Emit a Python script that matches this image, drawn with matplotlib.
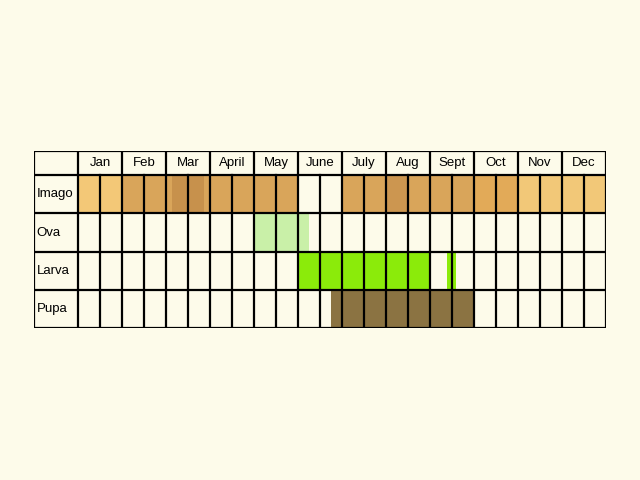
import matplotlib
matplotlib.use("Agg")
import matplotlib.pyplot as plt
from matplotlib.patches import Rectangle

months = ["Jan","Feb","Mar","April","May","June","July","Aug","Sept","Oct","Nov","Dec"]
stages = ["Imago","Ova","Larva","Pupa"]
# bars: (stage index, start half-month, end half-month, colour)
bar_stage = [0,0,0,0,0,0,0,0,1,2,2,3]
bar_start = [0,2,4.27,12,14,18,20,8,10,16.77,11.5,11.5]
bar_end   = [2,10,5.72,18,15,20,24,10.5,16,17.2,18,18]
bar_col   = ["#F3C877","#D9A55A","#C7914C","#D9A55A","#CC9650","#E2AA58","#F2C878",
             "#C9F0A8","#8BEB0A","#8BEB0A","#8B7342","#8B7342"]
bar_stage[7] = 1; bar_stage[8] = 2; bar_stage[9] = 2; bar_stage[10] = 3; bar_stage[11] = 3
bar_start[10] = 11.5

bg = "#FDFBEA"
fig = plt.figure(figsize=(6.4,4.8), dpi=100, facecolor=bg)
ax = fig.add_axes([34/640, (480-328)/480, 572/640, 177/480])
ax.set_facecolor(bg)
rows = [0,24,62,101,139,177]
ax.set_xlim(-2,24); ax.set_ylim(177,0)
ax.axis("off")
for s,a,b,c in zip(bar_stage,bar_start,bar_end,bar_col):
    ax.add_patch(Rectangle((a,rows[s+1]),b-a,rows[s+2]-rows[s+1],color=c,lw=0,zorder=1))
lw=1.6
for y in rows:
    ax.plot([-2,24],[y,y],color="black",lw=lw,zorder=3)
ax.plot([-2,-2],[0,177],color="black",lw=lw,zorder=3)
for i in range(0,25):
    y0 = 0 if i%2==0 else 24
    ax.plot([i,i],[y0,177],color="black",lw=lw,zorder=3)
for i,m in enumerate(months):
    ax.text(2*i+1,12,m,ha="center",va="center",fontsize=9.5,fontfamily="Liberation Sans")
for j,s in enumerate(stages):
    ax.text(-1.88,(rows[j+1]+rows[j+2])/2,s,ha="left",va="center",fontsize=9.5,fontfamily="Liberation Sans")
fig.savefig("out.png",dpi=100,facecolor=bg)
